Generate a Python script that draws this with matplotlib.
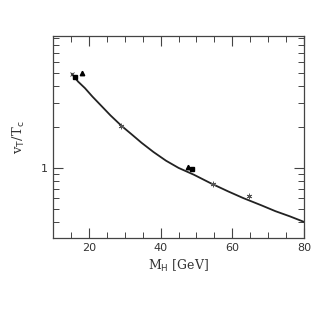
import numpy as np
import matplotlib
matplotlib.use('Agg')
import matplotlib.pyplot as plt
from matplotlib.ticker import LogLocator, NullFormatter, FixedLocator, FixedFormatter

# curve
curve_m = [15.3, 17.0, 18.9, 21.0, 23.5, 26.0, 29.1, 32.0, 34.7, 38.0,
           41.5, 45.0, 49.3, 54.0, 58.9, 63.0, 68.1, 72.0, 76.0, 80.0]
curve_v = [4.91, 4.32, 3.87, 3.35, 2.86, 2.44, 2.04, 1.76, 1.53, 1.31,
           1.13, 1.00, 0.89, 0.77, 0.67, 0.60, 0.53, 0.48, 0.44, 0.40]

# data points
star_m = [29.1, 54.7, 64.5]
star_v = [2.02, 0.76, 0.62]
square_m = [16.2, 48.8]
square_v = [4.67, 0.98]
tri_m = [18.1, 47.6]
tri_v = [5.0, 1.02]

fig = plt.figure(figsize=(3.27, 3.11), dpi=100)
ax = fig.add_axes([0.162, 0.235, 0.768, 0.649])

ax.plot(curve_m, curve_v, color='#222222', lw=1.3)
ax.plot([15.3], [4.91], ls='none', marker='x', ms=2.5, mew=0.6, color='#333333')
ax.plot(star_m, star_v, ls='none', marker=(6, 2, 0), ms=4, mew=0.6, color='#555555')
ax.plot(square_m, square_v, ls='none', marker='s', ms=3.2, color='black')
ax.plot(tri_m, tri_v, ls='none', marker='^', ms=3.2, color='black')

ax.set_yscale('log')
ax.set_xlim(10, 80)
ax.set_ylim(0.305, 9.35)

ax.xaxis.set_major_locator(FixedLocator([20, 40, 60, 80]))
ax.xaxis.set_minor_locator(FixedLocator(np.arange(15, 80, 5)))
ax.yaxis.set_major_locator(FixedLocator([1]))
ax.yaxis.set_major_formatter(FixedFormatter(['1']))
ax.yaxis.set_minor_locator(LogLocator(base=10, subs=np.arange(2, 10)))
ax.yaxis.set_minor_formatter(NullFormatter())

ax.tick_params(which='both', direction='in', top=True, right=True, labelsize=8,
               color='#444444', labelcolor='#333333')
ax.tick_params(which='major', length=7, width=0.8)
ax.tick_params(which='minor', length=4, width=0.7)
for s in ax.spines.values():
    s.set_linewidth(0.9)
    s.set_color('#444444')

ax.set_xlabel(r'M$_\mathrm{H}$ [GeV]', family='DejaVu Serif', fontsize=9, color='#333333')
ax.set_ylabel(r'v$_\mathrm{T}$/T$_\mathrm{c}$', family='DejaVu Serif', fontsize=9.5,
              color='#333333', labelpad=10)

fig.savefig('out.png', dpi=100)
